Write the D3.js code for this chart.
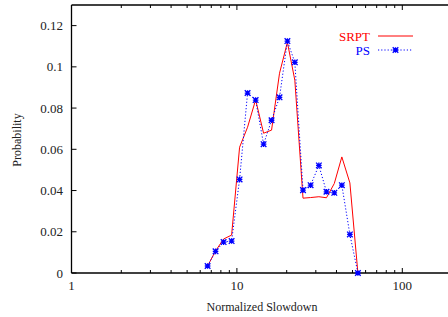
<!DOCTYPE html>
<html>
<head>
<meta charset="utf-8">
<script src="https://cdn.jsdelivr.net/npm/d3@7"></script>
<style>
    body { margin: 0; background: #fff; }
    svg { display: block; }
    text { font-family: "Liberation Serif", "DejaVu Serif", serif; }
</style>
</head>
<body>
<div id="chart"></div>
<script>
// DATA
// ----------------------------------------
const SLOWDOWN = [6.65, 7.43, 8.31, 9.29, 10.38, 11.6, 12.98, 14.5, 16.2, 18.1,
    20.2, 22.4, 25.1, 27.9, 31.3, 34.8, 38.8, 43.1, 48.2, 53.9];
const SRPT_PROB = [0.0034, 0.0107, 0.0165, 0.0184, 0.061, 0.0707, 0.084, 0.0678, 0.0693, 0.0969,
    0.1119, 0.0935, 0.0363, 0.0366, 0.037, 0.0365, 0.0434, 0.0563, 0.0437, 0];
const PS_PROB = [0.0034, 0.0105, 0.015, 0.0155, 0.0454, 0.0873, 0.0839, 0.0625, 0.0741, 0.0852,
    0.1125, 0.1022, 0.0402, 0.0426, 0.0522, 0.0394, 0.0389, 0.0426, 0.0187, 0];
const Y_TICKS = [0, 0.02, 0.04, 0.06, 0.08, 0.1, 0.12];
const X_TICKS = [1, 10, 100];
const SERIES_NAMES = ["SRPT", "PS"];

// LAYOUT
// ----------------------------------------
const WIDTH = 448, HEIGHT = 317;
const LEFT = 71.5, TOP = 5, BOTTOM = 273;
const DECADE = 165.4;
const COLOR_SRPT = "#ff0000";
const COLOR_PS = "#0000ff";

const svg = d3.select("#chart").append("svg")
    .attr("width", WIDTH)
    .attr("height", HEIGHT);

svg.append("rect").attr("width", WIDTH).attr("height", HEIGHT).attr("fill", "#fff");

const x = d3.scaleLog().domain([1, 1000]).range([LEFT, LEFT + 3 * DECADE]);
const y = d3.scaleLinear().domain([0, 0.13]).range([BOTTOM, TOP]);

// Minor log ticks 2..9 per decade
const minorTicks = [];
[1, 10, 100].forEach(d => { for (let k = 2; k <= 9; k++) minorTicks.push(d * k); });

const axes = svg.append("g").attr("stroke", "#000");

// Borders (left, bottom, top)
axes.append("line").attr("x1", LEFT).attr("x2", LEFT).attr("y1", TOP).attr("y2", BOTTOM).attr("stroke-width", 1.3);
axes.append("line").attr("x1", LEFT).attr("x2", WIDTH).attr("y1", BOTTOM).attr("y2", BOTTOM).attr("stroke-width", 1.3);
axes.append("line").attr("x1", LEFT).attr("x2", WIDTH).attr("y1", TOP).attr("y2", TOP).attr("stroke-width", 1.3);

// Y ticks inward
axes.selectAll(".ytick").data(Y_TICKS).enter().append("line")
    .attr("x1", LEFT).attr("x2", LEFT + 5)
    .attr("y1", d => y(d)).attr("y2", d => y(d))
    .attr("stroke-width", 1);

// X major ticks on bottom and top
X_TICKS.forEach(t => {
    axes.append("line").attr("x1", x(t)).attr("x2", x(t)).attr("y1", BOTTOM).attr("y2", BOTTOM - 5).attr("stroke-width", 1);
    axes.append("line").attr("x1", x(t)).attr("x2", x(t)).attr("y1", TOP).attr("y2", TOP + 5).attr("stroke-width", 1);
});
minorTicks.filter(t => x(t) < WIDTH).forEach(t => {
    axes.append("line").attr("x1", x(t)).attr("x2", x(t)).attr("y1", BOTTOM).attr("y2", BOTTOM - 3).attr("stroke-width", 1);
    axes.append("line").attr("x1", x(t)).attr("x2", x(t)).attr("y1", TOP).attr("y2", TOP + 3).attr("stroke-width", 1);
});

// Tick labels
svg.selectAll(".ylabel").data(Y_TICKS).enter().append("text")
    .attr("x", 63).attr("y", d => y(d) + 4.5)
    .attr("text-anchor", "end")
    .attr("font-size", 13)
    .attr("fill", "#222")
    .text(d => d);

svg.selectAll(".xlabel").data(X_TICKS).enter().append("text")
    .attr("x", d => x(d)).attr("y", 290)
    .attr("text-anchor", "middle")
    .attr("font-size", 13)
    .attr("fill", "#222")
    .text(d => d);

// Axis titles
svg.append("text")
    .attr("x", 262).attr("y", 311)
    .attr("text-anchor", "middle")
    .attr("font-size", 12)
    .attr("fill", "#222")
    .text("Normalized Slowdown");

svg.append("text")
    .attr("transform", "translate(21,140) rotate(-90)")
    .attr("text-anchor", "middle")
    .attr("font-size", 12)
    .attr("fill", "#222")
    .text("Probability");

// Lines
const line = data => d3.line()
    .x((d, i) => x(SLOWDOWN[i]))
    .y(d => y(d))(data);

svg.append("path")
    .attr("d", line(SRPT_PROB))
    .attr("fill", "none")
    .attr("stroke", COLOR_SRPT)
    .attr("stroke-width", 1);

svg.append("path")
    .attr("d", line(PS_PROB))
    .attr("fill", "none")
    .attr("stroke", COLOR_PS)
    .attr("stroke-width", 1)
    .attr("stroke-dasharray", "1.2,2");

function drawStar(g, cx, cy) {
    const r = 2.8;
    g.append("path")
        .attr("d", `M${cx - r},${cy}H${cx + r}M${cx},${cy - r}V${cy + r}` +
            `M${cx - r},${cy - r}L${cx + r},${cy + r}M${cx - r},${cy + r}L${cx + r},${cy - r}`)
        .attr("stroke", COLOR_PS)
        .attr("stroke-width", 1.3)
        .attr("fill", "none");
}

const markers = svg.append("g");
PS_PROB.forEach((d, i) => drawStar(markers, x(SLOWDOWN[i]), y(d)));

// Legend
const legend = svg.append("g");
legend.append("text").attr("x", 370).attr("y", 41).attr("text-anchor", "end")
    .attr("font-size", 13).attr("fill", COLOR_SRPT).text(SERIES_NAMES[0]);
legend.append("line").attr("x1", 378).attr("x2", 413).attr("y1", 36).attr("y2", 36)
    .attr("stroke", COLOR_SRPT).attr("stroke-width", 1);
legend.append("text").attr("x", 370).attr("y", 55).attr("text-anchor", "end")
    .attr("font-size", 13).attr("fill", COLOR_PS).text(SERIES_NAMES[1]);
legend.append("line").attr("x1", 378).attr("x2", 413).attr("y1", 50).attr("y2", 50)
    .attr("stroke", COLOR_PS).attr("stroke-width", 1).attr("stroke-dasharray", "1.2,2");
drawStar(legend, 395.5, 50);
</script>
</body>
</html>
